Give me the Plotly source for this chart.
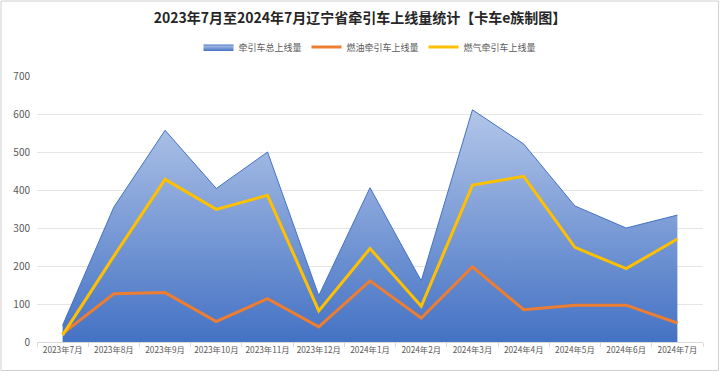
import plotly.graph_objects as go

months = ["2023年7月", "2023年8月", "2023年9月", "2023年10月", "2023年11月", "2023年12月",
          "2024年1月", "2024年2月", "2024年3月", "2024年4月", "2024年5月", "2024年6月", "2024年7月"]
total = [44, 355, 557, 404, 500, 122, 406, 161, 611, 521, 358, 300, 334]
fuel = [22, 127, 130, 54, 114, 40, 161, 63, 198, 85, 97, 97, 50]
gas = [18, 226, 428, 349, 386, 82, 246, 94, 413, 436, 249, 193, 271]

names = ["牵引车总上线量", "燃油牵引车上线量", "燃气牵引车上线量"]
title = "2023年7月至2024年7月辽宁省牵引车上线量统计【卡车e族制图】"
yticks = [0, 100, 200, 300, 400, 500, 600, 700]

FONT = "Noto Sans CJK SC, Noto Sans, sans-serif"

fig = go.Figure()
fig.add_trace(go.Scatter(
    x=months, y=total, name=names[0], mode="lines",
    line=dict(color="#4472C4", width=1),
    fill="tozeroy",
    fillgradient=dict(type="vertical", colorscale=[[0, "#4472C4"], [1, "#B4C7E9"]], start=0, stop=620),
))
fig.add_trace(go.Scatter(
    x=months, y=fuel, name=names[1], mode="lines",
    line=dict(color="#ED7D31", width=3),
))
fig.add_trace(go.Scatter(
    x=months, y=gas, name=names[2], mode="lines",
    line=dict(color="#FFC000", width=3),
))

L, R, T, B = 37, 17, 76, 30
W, H = 720, 372
pw, ph = W - L - R, H - T - B

fig.update_layout(
    width=W, height=H,
    margin=dict(l=L, r=R, t=T, b=B, autoexpand=False),
    paper_bgcolor="white", plot_bgcolor="white",
    font=dict(family=FONT, color="#595959"),
    title=dict(text="<b>" + title + "</b>", x=0.5, xanchor="center", y=1 - 18 / H, yanchor="middle",
               font=dict(size=14, color="#262626", family=FONT)),
    legend=dict(orientation="h", x=0.5, xanchor="center", y=1 + (T - 47) / ph, yanchor="middle",
                font=dict(size=9, color="#595959"), itemwidth=30, traceorder="normal"),
    showlegend=True,
    xaxis=dict(type="category", range=[-0.5, 12.5], showgrid=False, automargin=False,
               showline=True, linecolor="#D9D9D9", linewidth=1,
               ticks="outside", tickson="boundaries", ticklen=4, tickcolor="#D9D9D9",
               tickangle=0, tickfont=dict(size=8.3, color="#595959"), fixedrange=True),
    yaxis=dict(range=[0, 700], tickvals=yticks, showgrid=True, gridcolor="#E5E5E5", gridwidth=1,
               automargin=False,
               zeroline=False, showline=False, tickfont=dict(size=10, color="#595959"),
               ticklabelstandoff=6),
    shapes=[dict(type="rect", xref="paper", yref="paper",
                 x0=-(L - 1) / pw, x1=1 + (R - 1.5) / pw,
                 y0=-(B - 1.5) / ph, y1=1 + (T - 1) / ph,
                 line=dict(color="#D0D0D0", width=1), fillcolor="rgba(0,0,0,0)", layer="below")],
)

fig.write_html("out.html", config={"displayModeBar": False},
               post_script="document.body.style.margin='0';document.body.style.padding='0';")
